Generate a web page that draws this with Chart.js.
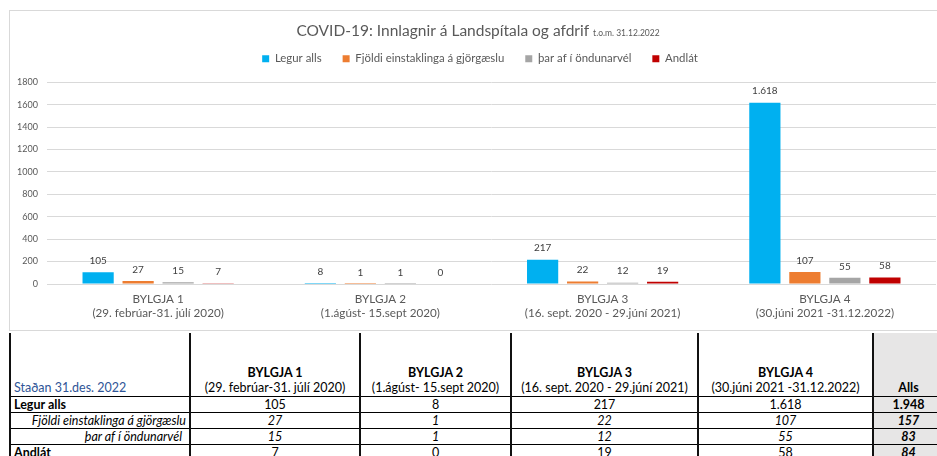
<!DOCTYPE html>
<html>
<head>
<meta charset="utf-8">
<script src="https://cdn.jsdelivr.net/npm/chart.js@4"></script>
<style>
  html, body { margin:0; padding:0; background:#fff; width:937px; height:456px; overflow:hidden; font-family: Lato, sans-serif; }
  #wrap { position:absolute; left:0; top:0; width:937px; height:332px; }
  #frame { position:absolute; left:9px; top:10px; width:960px; height:321px; border:1px solid #d9d9d9; box-sizing:border-box; border-right:none; }
  #tbl { position:absolute; left:9px; top:333px; width:934px; border-collapse:collapse; table-layout:fixed; font-family: Lato, sans-serif; font-size:12.5px; color:#000; }
  #tbl td { padding:0 3px; white-space:nowrap; overflow:hidden; border-left:2px solid #111; border-right:2px solid #111; border-bottom:1px solid #000; line-height:15px; height:15px; text-align:center; }
  #tbl tr.head td { height:62px; vertical-align:bottom; line-height:15px; padding-bottom:1px; }
  #tbl td.alls { background:#e7e6e6; font-weight:bold; }
</style>
</head>
<body>
<div id="frame"></div>
<div id="wrap"><canvas id="c"></canvas></div>
<table id="tbl"></table>
<script>
// ---- data ----
const titleMain = 'COVID-19: Innlagnir á Landspítala og afdrif';
const titleSub = 't.o.m. 31.12.2022';
const waveNames = ['BYLGJA 1', 'BYLGJA 2', 'BYLGJA 3', 'BYLGJA 4'];
const wavePeriods = ['(29. febrúar-31. júlí 2020)', '(1.ágúst- 15.sept 2020)', '(16. sept. 2020 - 29.júní 2021)', '(30.júni 2021 -31.12.2022)'];
const seriesNames = ['Legur alls', 'Fjöldi einstaklinga á gjörgæslu', 'þar af í öndunarvél', 'Andlát'];
const legurAlls = [105, 8, 217, 1618];
const gjorgaesla = [27, 1, 22, 107];
const ondunarvel = [15, 1, 12, 55];
const andlat = [7, 0, 19, 58];
const allsTotals = [1948, 157, 83, 84];
const tableCorner = 'Staðan 31.des. 2022';
const allsLabel = 'Alls';
const yTicks = [0, 200, 400, 600, 800, 1000, 1200, 1400, 1600, 1800];

const colors = ['#00b0f0', '#ed7d31', '#a5a5a5', '#c00000'];
const fmt = n => String(n).replace(/\B(?=(\d{3})+(?!\d))/g, '.');

const seriesValues = [legurAlls, gjorgaesla, ondunarvel, andlat];

const titlePlugin = {
  id: 'mixedTitle',
  afterDraw(chart) {
    const ctx = chart.ctx;
    ctx.save();
    const big = '15.5px Lato', small = '8.5px Lato';
    ctx.font = big; const w1 = ctx.measureText(titleMain + ' ').width;
    ctx.font = small; const w2 = ctx.measureText(titleSub).width;
    const x = 478 - (w1 + w2) / 2;
    ctx.fillStyle = '#595959';
    ctx.textBaseline = 'alphabetic';
    ctx.textAlign = 'left';
    ctx.font = big; ctx.fillText(titleMain + ' ', x, 35.5);
    ctx.font = small; ctx.fillText(titleSub, x + w1, 35.5);
    ctx.restore();
  }
};

const valueLabels = {
  id: 'valueLabels',
  afterDatasetsDraw(chart) {
    const ctx = chart.ctx;
    ctx.save();
    ctx.font = '10px Lato';
    ctx.fillStyle = '#404040';
    ctx.textAlign = 'center';
    ctx.textBaseline = 'middle';
    chart.data.datasets.forEach((ds, i) => {
      chart.getDatasetMeta(i).data.forEach((el, j) => {
        ctx.fillText(fmt(ds.data[j]), el.x, el.y - 11.5);
      });
    });
    ctx.restore();
  }
};

new Chart(document.getElementById('c'), {
  type: 'bar',
  data: {
    labels: waveNames.map((n, i) => [n, wavePeriods[i]]),
    datasets: seriesNames.map((name, i) => ({
      label: name,
      data: seriesValues[i],
      backgroundColor: colors[i],
      borderWidth: 0,
      categoryPercentage: 0.72,
      barPercentage: 0.78
    }))
  },
  options: {
    responsive: true,
    maintainAspectRatio: false,
    animation: false,
    devicePixelRatio: 1,
    layout: { padding: { left: 24, right: 1, top: 32, bottom: 0 } },
    plugins: {
      title: { display: false },
      subtitle: {
        display: true, text: '', weight: 500,
        font: { size: 1 }, padding: { top: 0, bottom: 6.7 }
      },
      tooltip: { enabled: false },
      legend: {
        position: 'top',
        labels: {
          boxWidth: 7, boxHeight: 7, padding: 21,
          color: '#595959',
          font: { family: 'Lato', size: 11.4 }
        }
      }
    },
    scales: {
      x: {
        grid: { display: false, drawTicks: false },
        border: { display: false },
        ticks: { color: '#595959', font: { family: 'Lato', size: 11.7 }, padding: 8, maxRotation: 0 },
        afterFit(s) { s.height = 48; }
      },
      y: {
        min: 0, max: 1800,
        afterBuildTicks(s) { s.ticks = yTicks.map(v => ({ value: v })); },
        grid: { color: '#d9d9d9', drawTicks: false, lineWidth: 1 },
        border: { display: false },
        ticks: { color: '#595959', font: { family: 'Lato', size: 9 }, padding: 9, callback: v => String(v) },
        afterFit(s) {
          s.width = 23;
          s._computeLabelArea = () => undefined;
        }
      }
    }
  },
  plugins: [titlePlugin, valueLabels]
});

// ---- table built from the same arrays ----
const tbl = document.getElementById('tbl');
const colW = [180, 170, 151, 187, 175, 71];
const cg = document.createElement('colgroup');
colW.forEach(w => { const c = document.createElement('col'); c.style.width = w + 'px'; cg.appendChild(c); });
tbl.appendChild(cg);
let html = '<tr class="head"><td style="text-align:left;color:#2f5597;">' + tableCorner + '</td>';
waveNames.forEach((n, i) => { html += '<td><b>' + n + '</b><br>' + wavePeriods[i] + '</td>'; });
html += '<td class="alls">' + allsLabel + '</td></tr>';
const rowStyles = [
  { label: 'text-align:left;font-weight:bold;', val: '' },
  { label: 'text-align:right;font-style:italic;', val: 'font-style:italic;' },
  { label: 'text-align:right;font-style:italic;padding-right:7px;', val: 'font-style:italic;' },
  { label: 'text-align:left;font-weight:bold;', val: '' }
];
seriesNames.forEach((name, r) => {
  html += '<tr><td style="' + rowStyles[r].label + '">' + name + '</td>';
  seriesValues[r].forEach(v => { html += '<td style="' + rowStyles[r].val + '">' + fmt(v) + '</td>'; });
  html += '<td class="alls" style="' + (r > 0 ? 'font-style:italic;' : '') + '">' + fmt(allsTotals[r]) + '</td></tr>';
});
tbl.innerHTML = tbl.innerHTML + html;
</script>
</body>
</html>
